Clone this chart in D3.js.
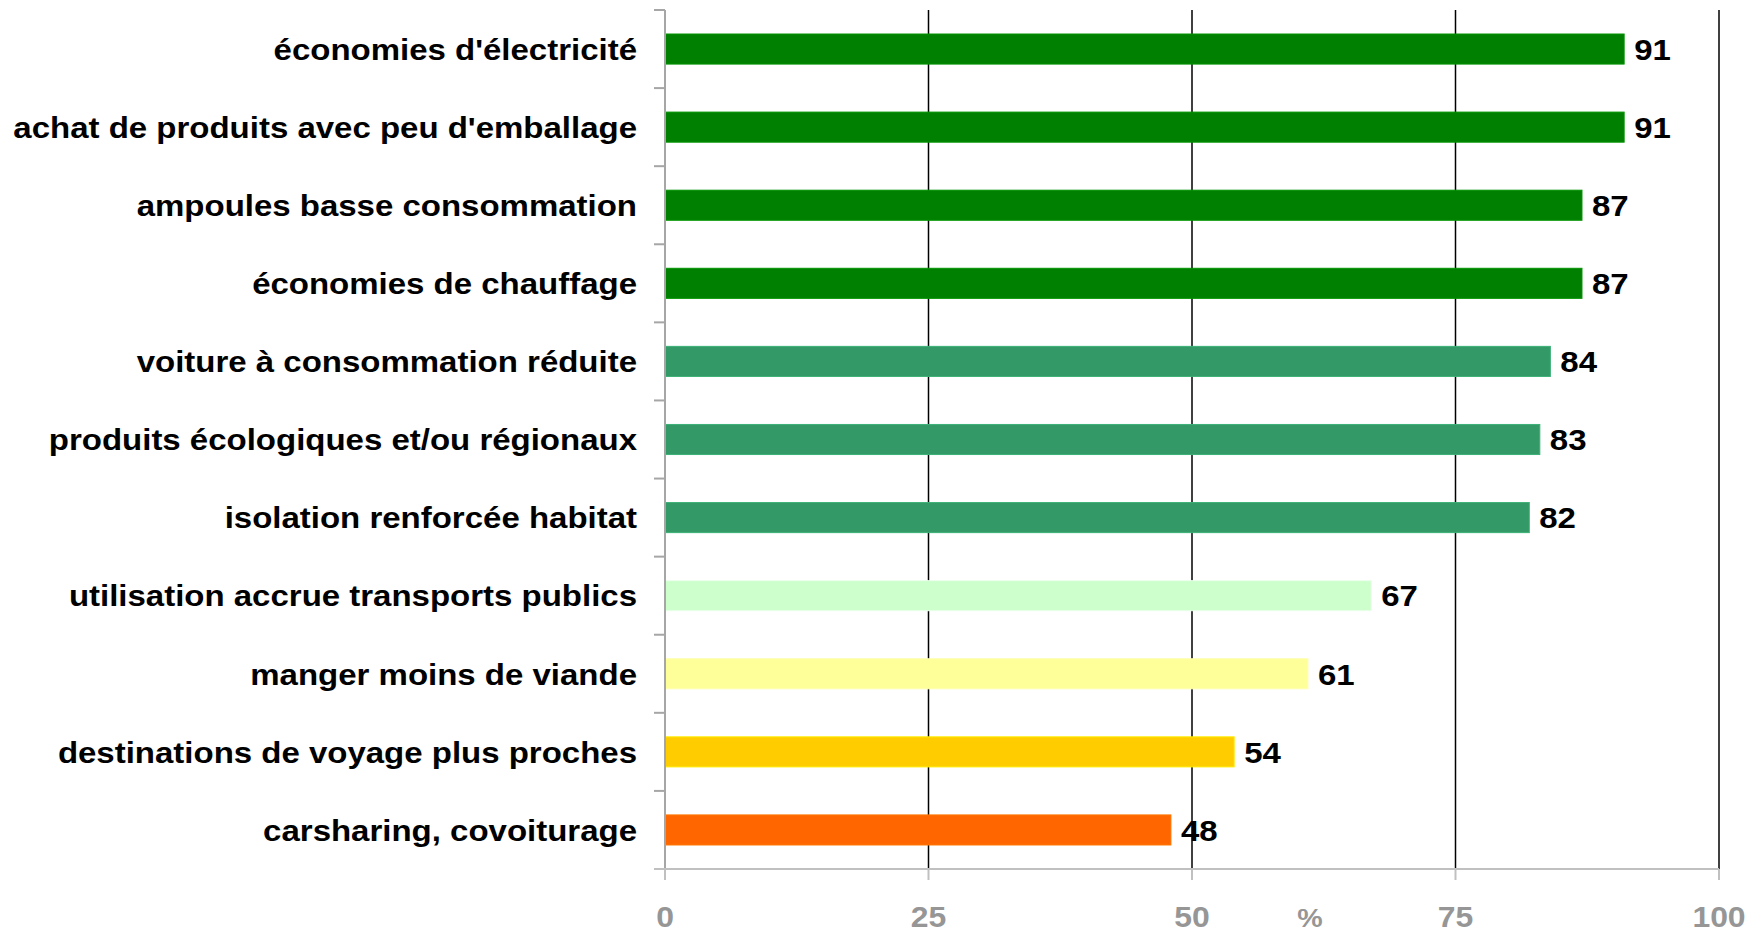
<!DOCTYPE html>
<html>
<head>
<meta charset="utf-8">
<script src="https://cdn.jsdelivr.net/npm/d3@7"></script>
<style>
  body { margin: 0; background: #fff; }
  svg { display: block; font-family: "Liberation Sans", Arial, sans-serif; }
</style>
</head>
<body>
<svg></svg>
<script>
const categories = [
    "économies d'électricité",
    "achat de produits avec peu d'emballage",
    "ampoules basse consommation",
    "économies de chauffage",
    "voiture à consommation réduite",
    "produits écologiques et/ou régionaux",
    "isolation renforcée habitat",
    "utilisation accrue transports publics",
    "manger moins de viande",
    "destinations de voyage plus proches",
    "carsharing, covoiturage"
]
const values = [91, 91, 87, 87, 84, 83, 82, 67, 61, 54, 48]
const barColors = ['#008000', '#008000', '#008000', '#008000', '#339966', '#339966', '#339966',
    '#CCFFCC', '#FFFF99', '#FFCC00', '#FF6600']
const xTicks = [0, 25, 50, 75, 100]
const unitLabel = '%'

const width = 1764;
const height = 933;
const plotLeft = 665;
const plotRight = 1719;
const plotTop = 10;
const plotBottom = 869;
const stretch = 1.1; // the original text is a bit wider than Arial

const svg = d3.select("svg")
    .attr("width", width)
    .attr("height", height)

const xScale = d3.scaleLinear()
    .domain([0, 100])
    .range([plotLeft, plotRight])

const yScale = d3.scaleBand()
    .domain(categories)
    .range([plotTop, plotBottom])
    .paddingInner(0.615)
    .paddingOuter(0.3075)

const place = (x, y) => 'translate(' + x + ',' + y + ') scale(' + stretch + ',1)'

// vertical gridlines (black)
svg.append('g')
    .selectAll('line')
    .data(xTicks.filter(d => d > 0))
    .enter()
    .append('line')
    .attr('x1', d => xScale(d))
    .attr('x2', d => xScale(d))
    .attr('y1', plotTop)
    .attr('y2', plotBottom)
    .attr('stroke', '#000')
    .attr('stroke-width', 1.5)

// bars
svg.append('g')
    .selectAll('rect')
    .data(values)
    .enter()
    .append('rect')
    .attr('x', xScale(0))
    .attr('y', (d, i) => yScale(categories[i]))
    .attr('width', d => xScale(d) - xScale(0))
    .attr('height', yScale.bandwidth())
    .attr('fill', (d, i) => barColors[i])
    .attr('stroke', (d, i) => d3.color(barColors[i]).brighter(0.4))
    .attr('stroke-width', 1)

// value labels
svg.append('g')
    .selectAll('text')
    .data(values)
    .enter()
    .append('text')
    .attr('transform', (d, i) => place(xScale(d) + 10, yScale(categories[i]) + yScale.bandwidth() / 2))
    .attr('dy', '0.36em')
    .style('font-size', '30px')
    .style('font-weight', 'bold')
    .style('fill', '#000')
    .text(d => d)

// y axis (gray, ticks between categories)
const yAxis = svg.append('g')
const boundaries = d3.range(categories.length + 1)
    .map(i => plotTop + i * (plotBottom - plotTop) / categories.length)
yAxis.append('line')
    .attr('x1', plotLeft).attr('x2', plotLeft)
    .attr('y1', plotTop).attr('y2', plotBottom)
    .attr('stroke', '#a6a6a6')
    .attr('stroke-width', 2)
yAxis.selectAll('.ytick')
    .data(boundaries)
    .enter()
    .append('line')
    .attr('class', 'ytick')
    .attr('x1', plotLeft - 11).attr('x2', plotLeft)
    .attr('y1', d => d).attr('y2', d => d)
    .attr('stroke', '#a6a6a6')
    .attr('stroke-width', 2)

// category labels
yAxis.selectAll('.ylabel')
    .data(categories)
    .enter()
    .append('text')
    .attr('class', 'ylabel')
    .attr('transform', d => place(plotLeft - 28, yScale(d) + yScale.bandwidth() / 2))
    .attr('dy', '0.36em')
    .style('text-anchor', 'end')
    .style('font-size', '30px')
    .style('font-weight', 'bold')
    .style('fill', '#000')
    .text(d => d)

// x axis
const xAxis = svg.append('g')
xAxis.append('line')
    .attr('x1', plotLeft - 11).attr('x2', plotRight)
    .attr('y1', plotBottom).attr('y2', plotBottom)
    .attr('stroke', '#c0c0c0')
    .attr('stroke-width', 2)
xAxis.selectAll('.xtick')
    .data(xTicks)
    .enter()
    .append('line')
    .attr('class', 'xtick')
    .attr('x1', d => xScale(d)).attr('x2', d => xScale(d))
    .attr('y1', plotBottom).attr('y2', plotBottom + 11)
    .attr('stroke', '#c0c0c0')
    .attr('stroke-width', 2)
xAxis.selectAll('.xlabel')
    .data(xTicks)
    .enter()
    .append('text')
    .attr('class', 'xlabel')
    .attr('transform', d => place(xScale(d), 927))
    .style('text-anchor', 'middle')
    .style('font-size', '29px')
    .style('font-weight', 'bold')
    .style('fill', '#969696')
    .text(d => d)

svg.append('text')
    .attr('transform', place(1310, 927))
    .style('text-anchor', 'middle')
    .style('font-size', '26px')
    .style('font-weight', 'bold')
    .style('fill', '#969696')
    .text(unitLabel)
</script>
</body>
</html>
